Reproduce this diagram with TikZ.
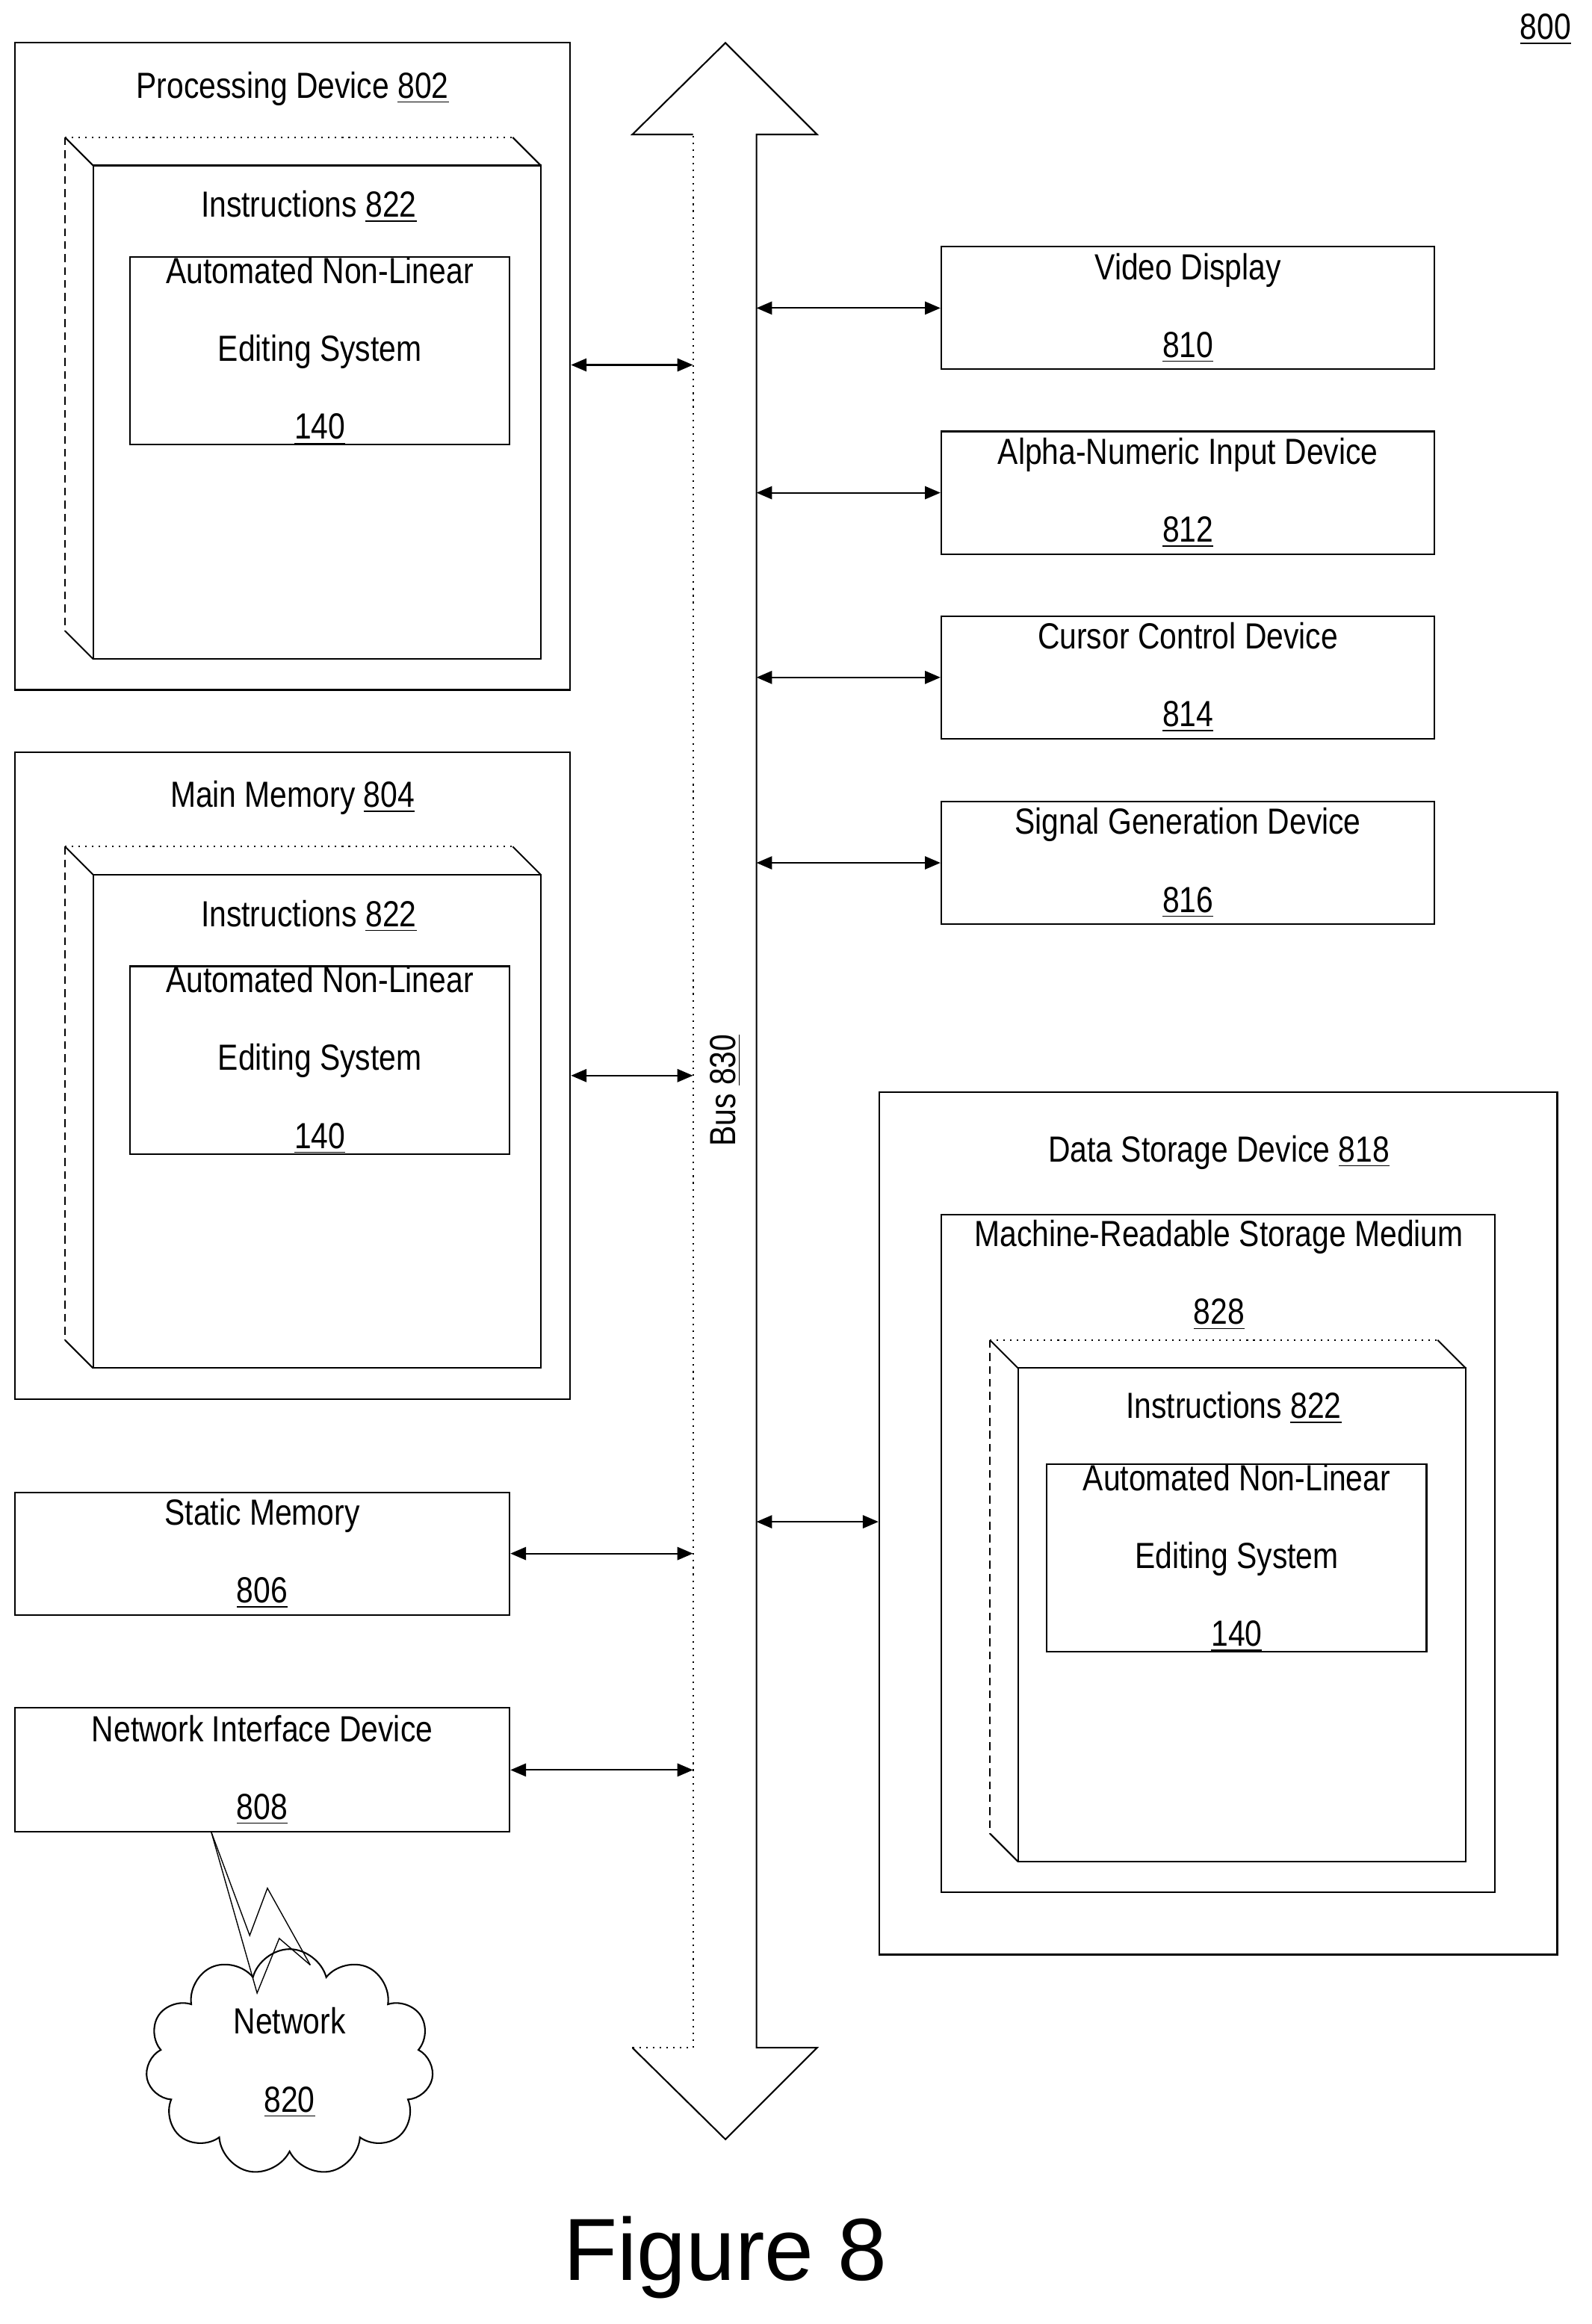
\documentclass[tikz,border=0pt]{standalone}
\usepackage{fontspec}
\setmainfont{Liberation Sans}
\newfontfamily\narrowfont[FakeStretch=0.84]{Liberation Sans}
\usetikzlibrary{arrows.meta,shapes.symbols}
\newcommand{\Dep}{19}
\newcommand{\drawInstr}[4]{
    \draw[dotted] (#1-\Dep,#2-\Dep) -- (#3-\Dep,#2-\Dep);
    \draw (#3-\Dep,#2-\Dep) -- (#3,#2);
    \draw (#1-\Dep,#2-\Dep) -- (#1,#2);
    \draw[densely dashed] (#1-\Dep,#2-\Dep) -- (#1-\Dep,#4-\Dep);
    \draw (#1-\Dep,#4-\Dep) -- (#1,#4);
    \draw (#1,#2) rectangle (#3,#4);
}
\newcommand{\refn}[1]{\underline{#1}}
\tikzset{
    box/.style={draw, line width=0.6pt, align=center, inner sep=0pt},
    dev/.style={box, minimum width=6.68cm, minimum height=1.66cm},
    anl/.style={box, minimum width=5.14cm, minimum height=2.5cm},
    big/.style={box, minimum width=7.52cm, minimum height=8.76cm},
    lnk/.style={{Triangle[length=6pt,width=5pt]}-{Triangle[length=6pt,width=5pt]}, line width=0.6pt},
    every node/.style={font=\narrowfont\fontsize{14}{30}\selectfont}
}
\begin{document}
\begin{tikzpicture}[x=0.02cm, y=-0.02cm, line width=0.6pt]
    \useasboundingbox (0,0) rectangle (1077,1573);
    \node at (1046,20) {\refn{800}};

    % bus
    \coordinate (busL) at (469,0);
    \coordinate (busR) at (512,0);
    \draw (469,91) -- (428,91) -- (491,29) -- (553,91) -- (512,91) -- (512,1386) -- (553,1386) -- (491,1448) -- (428,1386);
    \draw[dotted] (428,1386) -- (469,1386) -- (469,91);
    \node[rotate=90] (bus) at (491,738) {Bus \refn{830}};

    % processing device
    \node[big] (pd) at (198,248) {};
    \node at (198,60) {Processing Device \refn{802}};
    \drawInstr{63}{112}{366}{446}
    \node at (209,140) {Instructions \refn{822}};
    \node[anl] (anlA) at (216.5,237.5) {Automated Non-Linear\\Editing System\\\refn{140}};

    % main memory
    \node[big] (mm) at (198,728) {};
    \node at (198,540) {Main Memory \refn{804}};
    \drawInstr{63}{592}{366}{926}
    \node at (209,620) {Instructions \refn{822}};
    \node[anl] (anlB) at (216.5,717.5) {Automated Non-Linear\\Editing System\\\refn{140}};

    \node[box, minimum width=6.7cm, minimum height=1.66cm] (sm) at (177.5,1051.5) {Static Memory\\\refn{806}};
    \node[box, minimum width=6.7cm, minimum height=1.68cm] (nid) at (177.5,1198) {Network Interface Device\\\refn{808}};

    \node[dev] (vd) at (804,208.5) {Video Display\\\refn{810}};
    \node[dev] (an) at (804,333.5) {Alpha-Numeric Input Device\\\refn{812}};
    \node[dev] (cc) at (804,458.5) {Cursor Control Device\\\refn{814}};
    \node[dev] (sg) at (804,584) {Signal Generation Device\\\refn{816}};

    % data storage
    \node[box, minimum width=9.18cm, minimum height=11.68cm] (ds) at (824.5,1031) {};
    \node at (825,780) {Data Storage Device \refn{818}};
    \node[box, minimum width=7.5cm, minimum height=9.18cm] (mrsm) at (824.5,1051.5) {};
    \node[align=center] at (825,863) {Machine-Readable Storage Medium\\\refn{828}};
    \drawInstr{689}{926}{992}{1260}
    \node at (835,953) {Instructions \refn{822}};
    \node[anl] (anlC) at (837,1054.5) {Automated Non-Linear\\Editing System\\\refn{140}};

    % network
    \node[cloud, draw, cloud puffs=11, aspect=1.4, minimum width=3.9cm, minimum height=2.75cm, align=center] (net) at (196,1396) {Network\\\refn{820}};
    \coordinate (zA) at (143,1240);
    \coordinate (zB) at (210,1330);
    \draw[line width=0.4pt] (zA) -- (169,1310) -- (181,1278) -- (zB);
    \draw[line width=0.4pt] (zA) -- (174,1349) -- (189,1312) -- (zB);

    % connectors
    \draw[lnk] (pd.east |- 0,247) -- (busL |- 0,247);
    \draw[lnk] (mm.east |- 0,728) -- (busL |- 0,728);
    \draw[lnk] (sm.east) -- (sm.east -| busL);
    \draw[lnk] (nid.east) -- (nid.east -| busL);
    \draw[lnk] (busR |- vd.west) -- (vd.west);
    \draw[lnk] (busR |- an.west) -- (an.west);
    \draw[lnk] (busR |- cc.west) -- (cc.west);
    \draw[lnk] (busR |- sg.west) -- (sg.west);
    \draw[lnk] (busR |- 0,1030) -- (ds.west |- 0,1030);

    \node[font=\fontsize{34}{40}\selectfont] (fig) at (491,1528) {Figure 8};
\end{tikzpicture}
\end{document}
